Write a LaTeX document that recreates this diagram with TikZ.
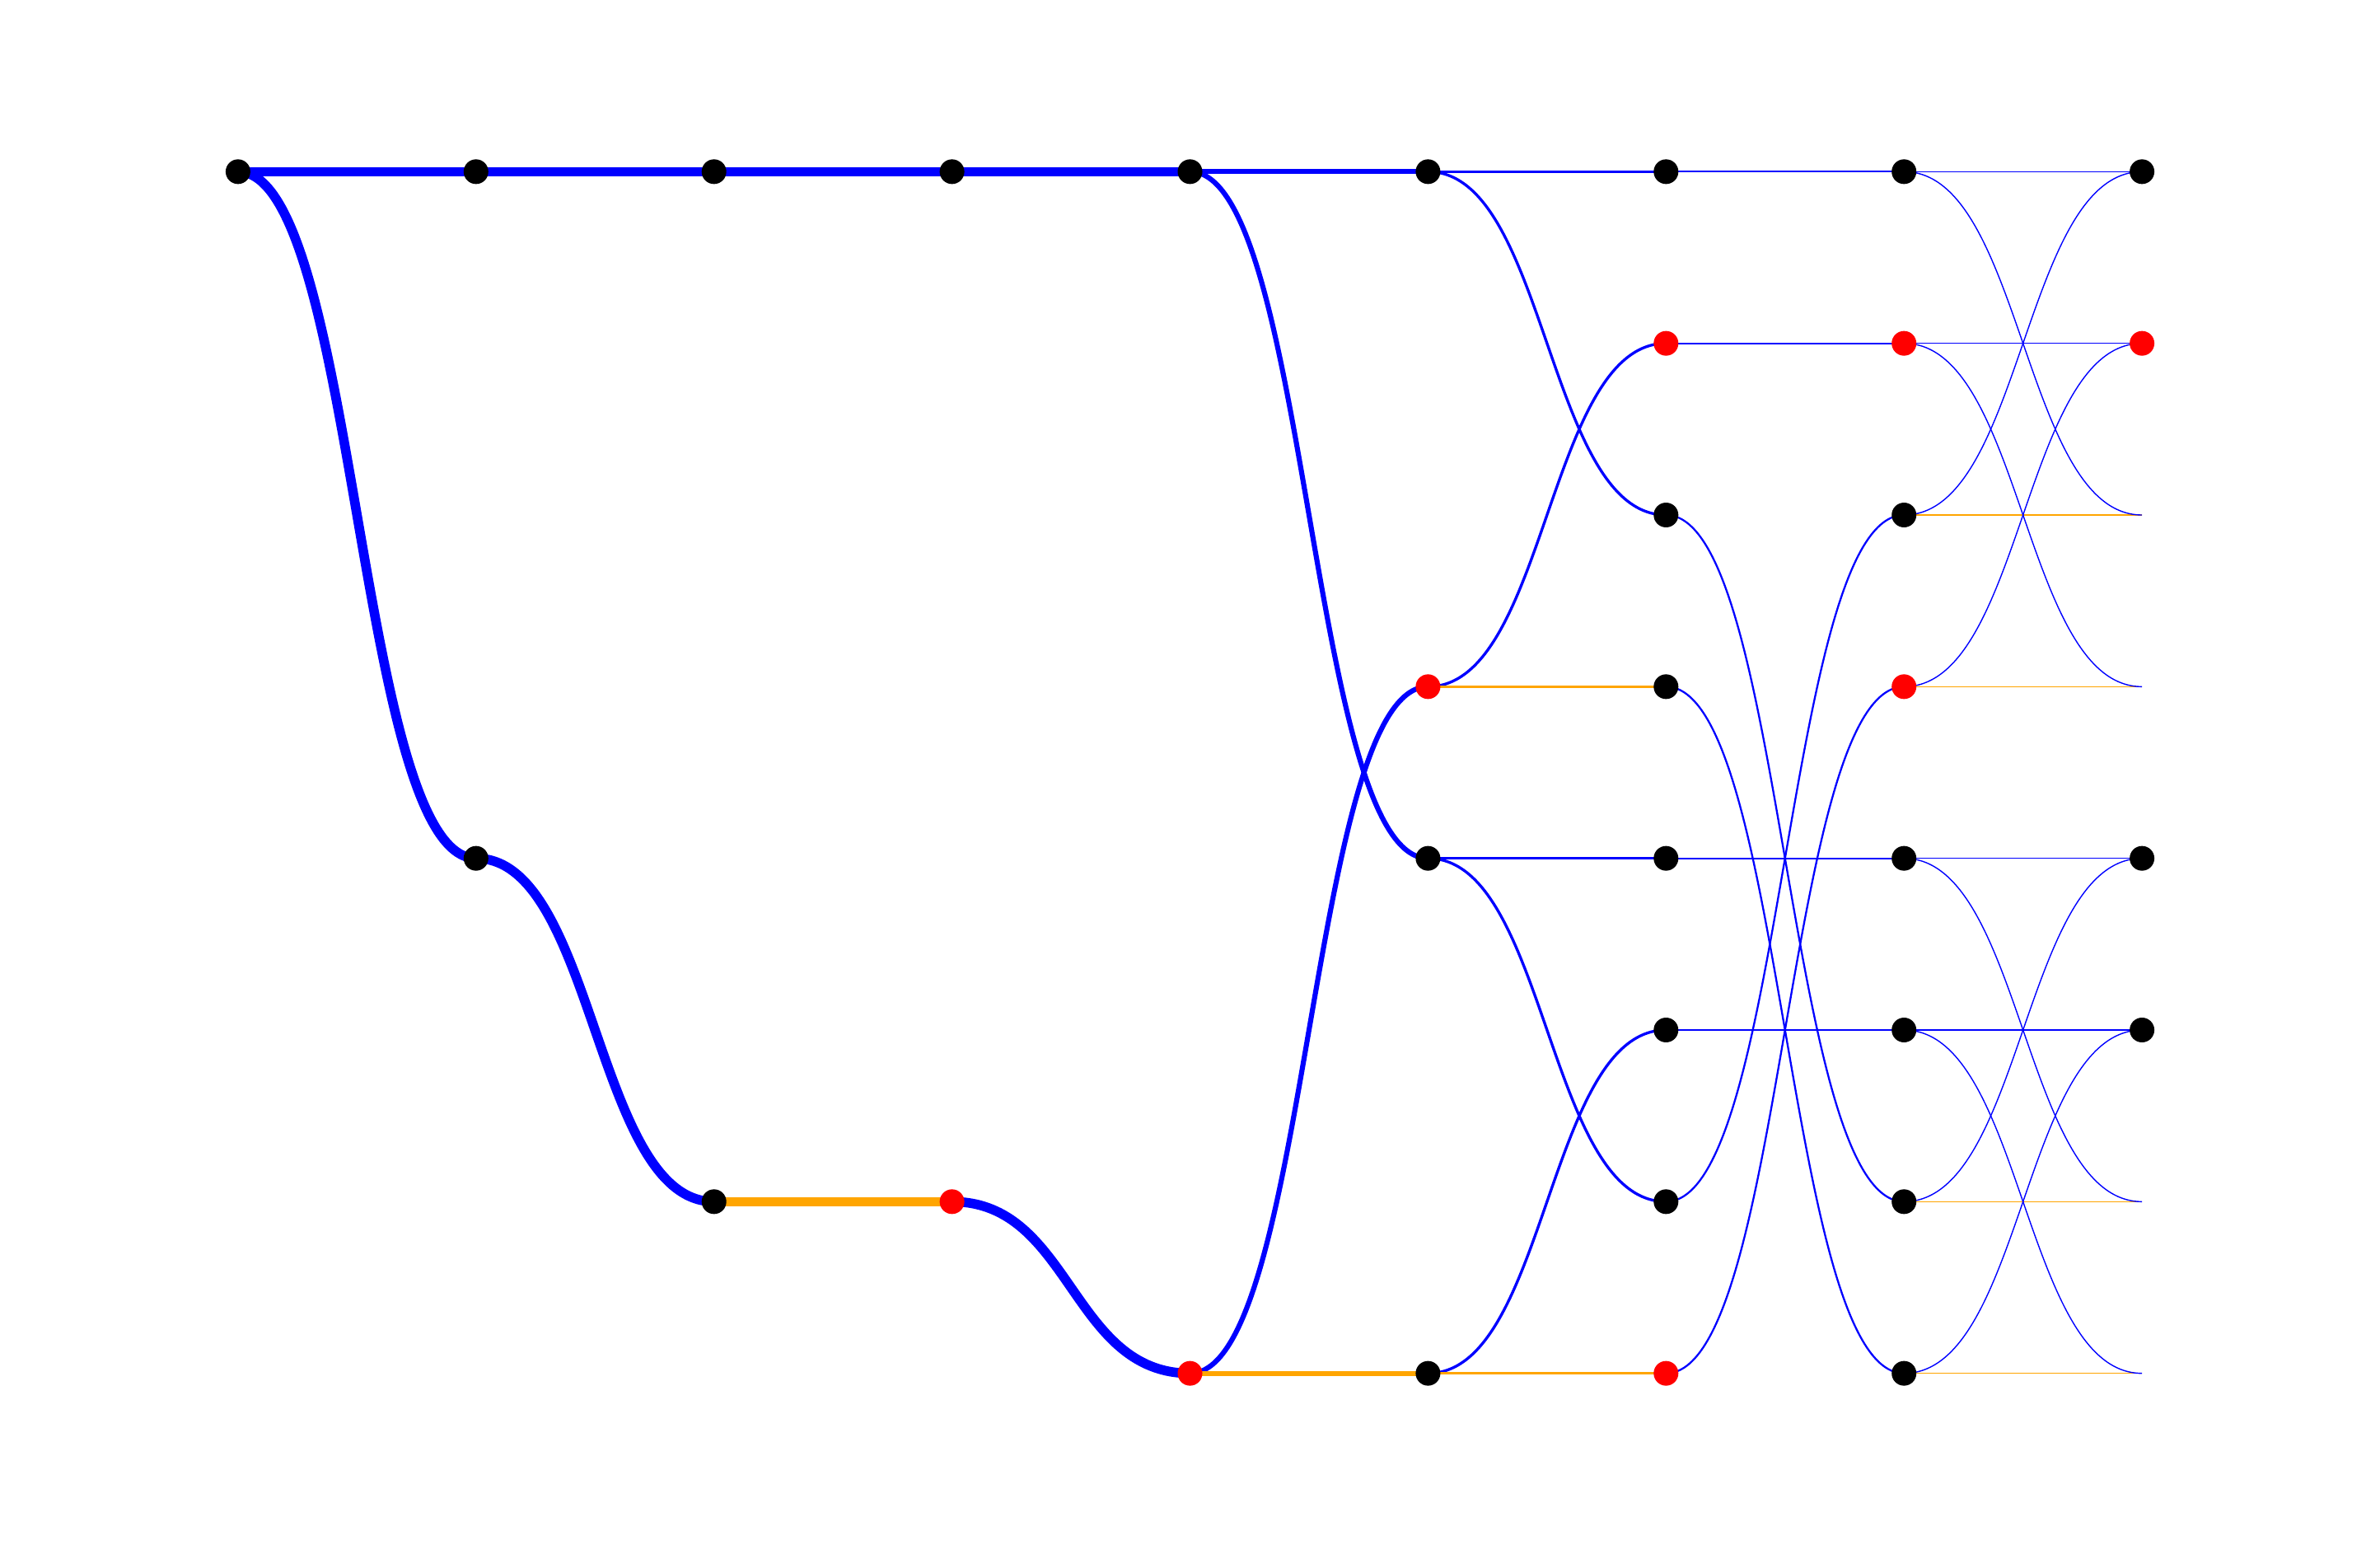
\documentclass[tikz,border=0pt]{standalone}
\usepackage{xcolor}
\usepackage{tikz}
\definecolor{live}{HTML}{0000FF}
\definecolor{amber}{HTML}{FFA500}
\definecolor{hot}{HTML}{FF0000}
\pgfdeclarelayer{bg}
\pgfsetlayers{bg,main}
\newcommand{\wire}[3]{\draw[#1] (#2.center) .. controls +(0.5,0) and +(-0.5,0) .. (#3.center);}
\tikzset{kdot/.style={circle,fill=black,inner sep=0pt,minimum size=3mm},
  rdot/.style={kdot,fill=hot},
  w0/.style={line width=3.3pt},w1/.style={line width=1.75pt},w2/.style={line width=0.95pt},
  w3/.style={line width=0.65pt},w4/.style={line width=0.4pt}}

\begin{document}
\begin{tikzpicture}[x=2.889cm,y=-2.0833cm]
\useasboundingbox (0,0) rectangle (10,9);
% vertices: column/row/style
\foreach \c/\r/\s in {0/0/kdot,1/0/kdot,1/4/kdot,2/0/kdot,2/6/kdot,3/0/kdot,3/6/rdot,4/0/kdot,4/7/rdot,
  5/0/kdot,5/3/rdot,5/4/kdot,5/7/kdot,
  6/0/kdot,6/1/rdot,6/2/kdot,6/3/kdot,6/4/kdot,6/5/kdot,6/6/kdot,6/7/rdot,
  7/0/kdot,7/1/rdot,7/2/kdot,7/3/rdot,7/4/kdot,7/5/kdot,7/6/kdot,7/7/kdot,
  8/0/kdot,8/1/rdot,8/4/kdot,8/5/kdot}
  \node[\s] (n\c\r) at (\c+1,\r+1) {};
\foreach \r in {2,3,6,7} \coordinate (n8\r) at (9,\r+1);
\begin{pgfonlayer}{bg}
% stages 0-3
\foreach \a/\b in {00/10,00/14,10/20,14/26,20/30,30/40,36/47} {\wire{live,w0}{n\a}{n\b}}
\wire{amber,w0}{n26}{n36}
% stage 4
\foreach \a/\b in {40/50,40/54,47/53} {\wire{live,w1}{n\a}{n\b}}
\wire{amber,w1}{n47}{n57}
% stage 5
\foreach \a/\b in {50/60,50/62,53/61,54/64,54/66,57/65} {\wire{live,w2}{n\a}{n\b}}
\foreach \a/\b in {53/63,57/67} {\wire{amber,w2}{n\a}{n\b}}
% stage 6
\foreach \a/\b in {60/70,61/71,62/76,63/77,64/74,65/75,66/72,67/73} {\wire{live,w3}{n\a}{n\b}}
% stage 7
\foreach \a/\b in {72/82,73/83,76/86,77/87} {\wire{amber,w4}{n\a}{n\b}}
\foreach \a/\b in {70/80,71/81,74/84,75/85,70/82,72/80,71/83,73/81,74/86,76/84,75/87,77/85} {\wire{live,w4}{n\a}{n\b}}
\end{pgfonlayer}
\end{tikzpicture}
\end{document}
